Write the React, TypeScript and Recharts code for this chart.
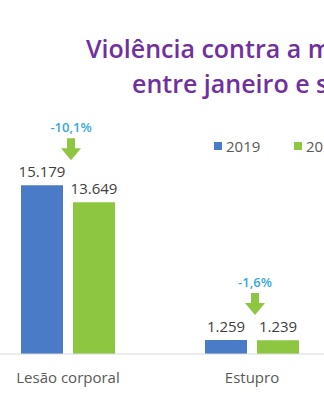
import { Bar, BarChart, LabelList, XAxis, YAxis } from "recharts";

const categories = ["Lesão corporal", "Estupro"];
const years = ["2019", "2020"];
const values2019 = [15179, 1259];
const values2020 = [13649, 1239];
const changes = ["-10,1%", "-1,6%"];

const titleLines = ["Violência contra a mulher", "entre janeiro e setembro"];

const blue = "#4a7bc6";
const green = "#8dc741";
const font = "'Open Sans', sans-serif";

const data = categories.map((name, i) => ({
  name,
  y2019: values2019[i],
  y2020: values2020[i],
  change: changes[i],
}));

function thousands(v: number): string {
  return String(v).replace(/\B(?=(\d{3})+(?!\d))/g, ".");
}

// percentage change + green down arrow drawn above each 2019 bar
function ChangeMark(props: any) {
  const { x, y, width, value } = props;
  const cx = Number(x) + Number(width) + 8;
  const top = Number(y);
  const a = top - 47;
  return (
    <g>
      <text
        x={cx}
        y={top - 58}
        textAnchor="middle"
        dominantBaseline="central"
        fill="#36a9de"
        fontSize={13}
        fontWeight={600}
      >
        {value}
      </text>
      <path
        d={`M${cx - 4},${a} h8 v10 h6 l-10,12 l-10,-12 h6 z`}
        fill={green}
      />
    </g>
  );
}

const titleStyle = {
  position: "absolute" as const,
  whiteSpace: "nowrap" as const,
  fontSize: 25,
  fontWeight: 600,
  lineHeight: "34px",
  color: "#7030a0",
};

export default function App() {
  return (
    <div
      style={{
        position: "absolute",
        left: 0,
        top: 0,
        width: 324,
        height: 400,
        overflow: "hidden",
        background: "#fff",
        fontFamily: font,
      }}
    >
      <div style={{ ...titleStyle, left: 86, top: 31 }}>{titleLines[0]}</div>
      <div style={{ ...titleStyle, left: 132, top: 66 }}>{titleLines[1]}</div>

      {years.map((yr, i) => (
        <div
          key={yr}
          style={{
            position: "absolute",
            left: 214 + i * 80,
            top: 136,
            display: "flex",
            alignItems: "center",
            whiteSpace: "nowrap",
            fontSize: 15,
            lineHeight: "20px",
            color: "#595959",
          }}
        >
          <span
            style={{
              display: "inline-block",
              width: 8,
              height: 8,
              marginRight: 4,
              background: i === 0 ? blue : green,
            }}
          />
          {yr}
        </div>
      ))}

      <div style={{ position: "absolute", left: -24, top: 0 }}>
        <BarChart
          width={368}
          height={400}
          data={data}
          margin={{ top: 154, right: 0, left: 0, bottom: 0 }}
          barSize={42}
          barGap={10}
        >
          <XAxis
            dataKey="name"
            height={46}
            interval={0}
            axisLine={{ stroke: "#d9d9d9" }}
            tickLine={false}
            tickSize={0}
            tickMargin={18}
            tick={{ fill: "#595959", fontSize: 15 }}
          />
          <YAxis hide domain={[0, 18000]} />
          <Bar dataKey="y2019" name={years[0]} fill={blue} isAnimationActive={false}>
            <LabelList
              dataKey="y2019"
              position="top"
              offset={8}
              formatter={(v: any) => thousands(Number(v))}
              style={{ fill: "#404040", fontSize: 15 }}
            />
            <LabelList dataKey="change" content={ChangeMark} />
          </Bar>
          <Bar dataKey="y2020" name={years[1]} fill={green} isAnimationActive={false}>
            <LabelList
              dataKey="y2020"
              position="top"
              offset={8}
              formatter={(v: any) => thousands(Number(v))}
              style={{ fill: "#404040", fontSize: 15 }}
            />
          </Bar>
        </BarChart>
      </div>
    </div>
  );
}
